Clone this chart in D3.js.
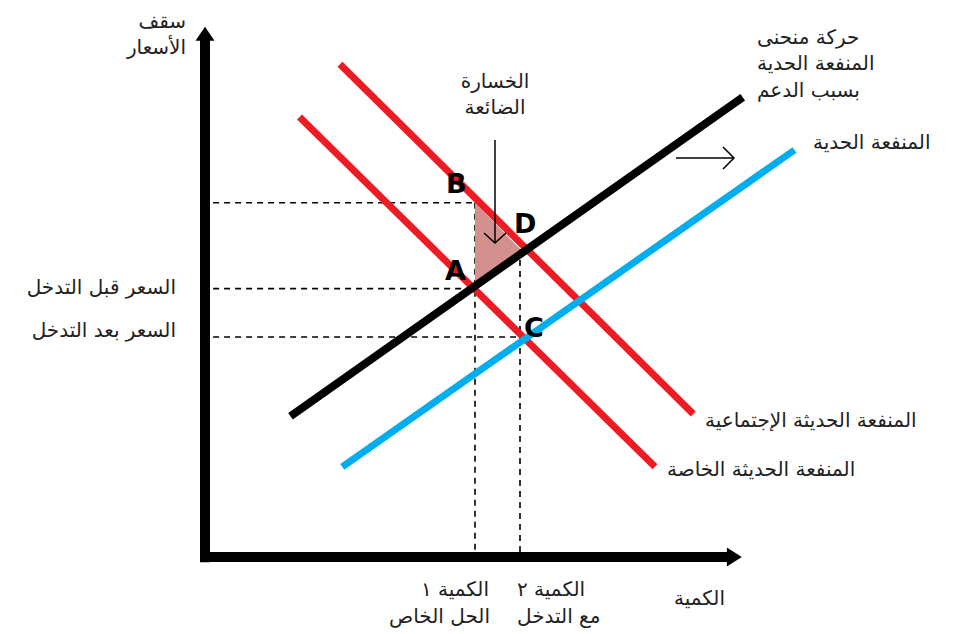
<!DOCTYPE html>
<html>
<head>
<meta charset="utf-8">
<script src="https://cdn.jsdelivr.net/npm/d3@7/dist/d3.min.js"></script>
<style>
  html, body { margin: 0; padding: 0; background: #fff; }
  svg { display: block; }
  .ar { font-family: "DejaVu Sans", "Noto Sans", sans-serif; font-size: 20px; fill: #222; }
  .pt { font-family: "DejaVu Sans", "Liberation Sans", sans-serif; font-weight: bold; font-size: 27px; fill: #000; }
</style>
</head>
<body>
<script>
// ---------- DATA ----------
// Curves as [quantity, price] endpoints
const curveNames = ["socialMB", "privateMB", "shiftedMB", "marginalMB"];
const socialMB   = [[3.0, 11.2], [10.85, 3.25]];
const privateMB  = [[2.1, 10.0], [10.0, 2.05]];
const shiftedMB  = [[1.9, 3.2], [11.95, 10.45]];
const marginalMB = [[3.05, 2.05], [13.1, 9.25]];

// Key quantities and prices
const quantities = [6.0, 7.0];          // Q1 (private), Q2 (with intervention)
const prices = { B: 8.05, A: 6.1, D: 7.0, C: 5.0 };
const pointLabels = ["A", "B", "C", "D"];

// Labels
const yAxisLabel = ["سقف", "الأسعار"];
const xAxisLabel = "الكمية";
const priceLabels = ["السعر قبل التدخل", "السعر بعد التدخل"];
const qtyLabels = [["الكمية ١", "الحل الخاص"], ["الكمية ٢", "مع التدخل"]];
const curveLabels = {
  shift: ["حركة منحنى", "المنفعة الحدية", "بسبب الدعم"],
  marginal: "المنفعة الحدية",
  social: "المنفعة الحديثة الإجتماعية",
  private: "المنفعة الحديثة الخاصة",
  dwl: ["الخسارة", "الضائعة"]
};

// ---------- CHART ----------
const W = 955, H = 634;
const svg = d3.select("body").append("svg").attr("width", W).attr("height", H);

const x = d3.scaleLinear().domain([0, 12]).range([205, 745]);
const y = d3.scaleLinear().domain([0, 12]).range([557, 29]);

const RED = "#ED1C24", BLUE = "#00AEEF";
const line = d3.line().x(d => x(d[0])).y(d => y(d[1]));

// dashed guides
const guides = svg.append("g").attr("stroke", "#000").attr("stroke-width", 1.6)
  .attr("stroke-dasharray", "6,5").attr("fill", "none");
const q1 = quantities[0], q2 = quantities[1];
guides.append("path").attr("d", line([[0.18, prices.B], [q1, prices.B]]));
guides.append("path").attr("d", line([[0.18, prices.A], [q1, prices.A]]));
guides.append("path").attr("d", line([[0.18, prices.C], [q2, prices.C]]));
guides.append("path").attr("d", line([[q1, prices.B], [q1, 0.1]]));
guides.append("path").attr("d", line([[q2, prices.D], [q2, 0.1]]));

// deadweight loss triangle
svg.append("path")
  .attr("d", line([[q1, prices.B], [q1, prices.A], [q2, prices.D]]) + "Z")
  .attr("fill", "#D4908F");

// curves
const curves = [
  { data: privateMB, color: RED, w: 7 },
  { data: socialMB, color: RED, w: 7 },
  { data: marginalMB, color: BLUE, w: 7 },
  { data: shiftedMB, color: "#000", w: 8 }
];
svg.append("g").selectAll("path").data(curves).join("path")
  .attr("d", d => line(d.data))
  .attr("stroke", d => d.color)
  .attr("stroke-width", d => d.w)
  .attr("fill", "none");

// axes
const axes = svg.append("g");
axes.append("path").attr("d", line([[0, -0.12], [0, 11.75]]))
  .attr("stroke", "#000").attr("stroke-width", 10).attr("fill", "none");
axes.append("path").attr("d", line([[-0.11, 0], [11.6, 0]]))
  .attr("stroke", "#000").attr("stroke-width", 10).attr("fill", "none");
// arrowheads
axes.append("path")
  .attr("d", `M${x(0)},${y(12.05)} L${x(0) - 9.5},${y(12.05) + 14} L${x(0) + 9.5},${y(12.05) + 14} Z`)
  .attr("fill", "#000");
axes.append("path")
  .attr("d", `M${x(11.93)},${y(0)} L${x(11.93) - 15},${y(0) - 9.5} L${x(11.93) - 15},${y(0) + 9.5} Z`)
  .attr("fill", "#000");

// shift arrow
const sh = svg.append("g").attr("stroke", "#000").attr("stroke-width", 1.5).attr("fill", "none");
sh.append("path").attr("d", "M676,158 L734,158");
sh.append("path").attr("d", "M723,147 L734,158 L723,169");

// DWL arrow
const da = svg.append("g").attr("stroke", "#000").attr("stroke-width", 1.5).attr("fill", "none");
da.append("path").attr("d", "M495,140 L495,243");
da.append("path").attr("d", "M484,233 L495,243 L506,233");

// point letters
const letterPos = { A: [445, 280], B: [446, 193], C: [524, 337], D: [514, 233] };
svg.append("g").selectAll("text").data(pointLabels).join("text")
  .attr("class", "pt")
  .attr("x", d => letterPos[d][0]).attr("y", d => letterPos[d][1])
  .text(d => d);

// text helper
function txt(str, px, py, anchor) {
  svg.append("text").attr("class", "ar").attr("x", px).attr("y", py)
    .attr("text-anchor", anchor).attr("dominant-baseline", "central").text(str);
}

// y-axis label
txt(yAxisLabel[0], 186, 21, "end");
txt(yAxisLabel[1], 186, 47, "end");
// x-axis label
txt(xAxisLabel, 725, 598, "end");
// price labels
txt(priceLabels[0], 176, 287, "end");
txt(priceLabels[1], 176, 330, "end");
// quantity labels
txt(qtyLabels[0][0], 489, 589, "end");
txt(qtyLabels[0][1], 490, 616, "end");
txt(qtyLabels[1][0], 517, 589, "start");
txt(qtyLabels[1][1], 517, 616, "start");
// curve labels
txt(curveLabels.shift[0], 757, 37, "start");
txt(curveLabels.shift[1], 757, 63, "start");
txt(curveLabels.shift[2], 757, 90, "start");
txt(curveLabels.marginal, 813, 142, "start");
txt(curveLabels.social, 705, 420, "start");
txt(curveLabels.private, 667, 469, "start");
txt(curveLabels.dwl[0], 495, 81, "middle");
txt(curveLabels.dwl[1], 495, 107, "middle");
</script>
</body>
</html>
